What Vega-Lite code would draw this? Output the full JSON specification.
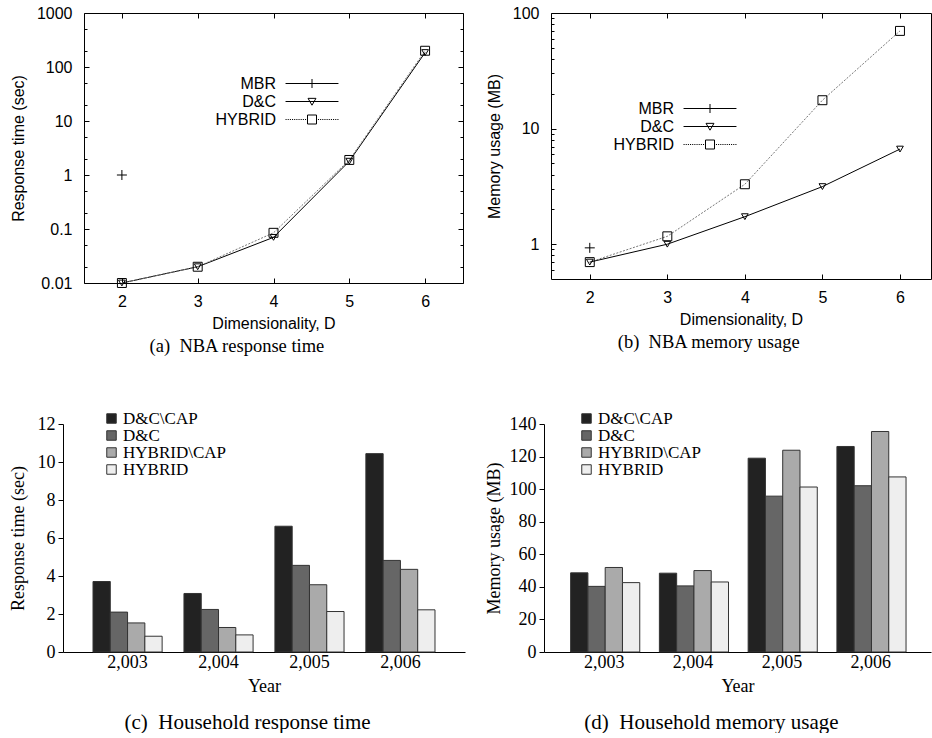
{
  "$schema": "https://vega.github.io/schema/vega-lite/v6.json",
  "padding": {"left": 9, "top": 4, "right": 0, "bottom": 0},
  "background": "white",
  "datasets": {
    "nba_time": [
      {"D": 2, "series": "MBR", "value": 1},
      {"D": 2, "series": "D&C", "value": 0.01},
      {"D": 3, "series": "D&C", "value": 0.02},
      {"D": 4, "series": "D&C", "value": 0.07},
      {"D": 5, "series": "D&C", "value": 1.8},
      {"D": 6, "series": "D&C", "value": 185},
      {"D": 2, "series": "HYBRID", "value": 0.01},
      {"D": 3, "series": "HYBRID", "value": 0.02},
      {"D": 4, "series": "HYBRID", "value": 0.085},
      {"D": 5, "series": "HYBRID", "value": 1.9},
      {"D": 6, "series": "HYBRID", "value": 200}
    ],
    "nba_mem": [
      {"D": 2, "series": "MBR", "value": 0.93},
      {"D": 2, "series": "D&C", "value": 0.7},
      {"D": 3, "series": "D&C", "value": 1.0},
      {"D": 4, "series": "D&C", "value": 1.73},
      {"D": 5, "series": "D&C", "value": 3.15},
      {"D": 6, "series": "D&C", "value": 6.65},
      {"D": 2, "series": "HYBRID", "value": 0.7},
      {"D": 3, "series": "HYBRID", "value": 1.17},
      {"D": 4, "series": "HYBRID", "value": 3.3},
      {"D": 5, "series": "HYBRID", "value": 17.6},
      {"D": 6, "series": "HYBRID", "value": 70}
    ],
    "hh_time": [
      {"year": 2003, "method": "D&C\\CAP", "value": 3.71},
      {"year": 2003, "method": "D&C", "value": 2.10},
      {"year": 2003, "method": "HYBRID\\CAP", "value": 1.53},
      {"year": 2003, "method": "HYBRID", "value": 0.83},
      {"year": 2004, "method": "D&C\\CAP", "value": 3.08},
      {"year": 2004, "method": "D&C", "value": 2.24},
      {"year": 2004, "method": "HYBRID\\CAP", "value": 1.29},
      {"year": 2004, "method": "HYBRID", "value": 0.90},
      {"year": 2005, "method": "D&C\\CAP", "value": 6.62},
      {"year": 2005, "method": "D&C", "value": 4.56},
      {"year": 2005, "method": "HYBRID\\CAP", "value": 3.54},
      {"year": 2005, "method": "HYBRID", "value": 2.13},
      {"year": 2006, "method": "D&C\\CAP", "value": 10.44},
      {"year": 2006, "method": "D&C", "value": 4.82},
      {"year": 2006, "method": "HYBRID\\CAP", "value": 4.35},
      {"year": 2006, "method": "HYBRID", "value": 2.22}
    ],
    "hh_mem": [
      {"year": 2003, "method": "D&C\\CAP", "value": 48.6},
      {"year": 2003, "method": "D&C", "value": 40.3},
      {"year": 2003, "method": "HYBRID\\CAP", "value": 51.9},
      {"year": 2003, "method": "HYBRID", "value": 42.6},
      {"year": 2004, "method": "D&C\\CAP", "value": 48.4},
      {"year": 2004, "method": "D&C", "value": 40.6},
      {"year": 2004, "method": "HYBRID\\CAP", "value": 50.0},
      {"year": 2004, "method": "HYBRID", "value": 43.0},
      {"year": 2005, "method": "D&C\\CAP", "value": 119},
      {"year": 2005, "method": "D&C", "value": 95.7},
      {"year": 2005, "method": "HYBRID\\CAP", "value": 123.9},
      {"year": 2005, "method": "HYBRID", "value": 101.3},
      {"year": 2006, "method": "D&C\\CAP", "value": 126.2},
      {"year": 2006, "method": "D&C", "value": 102.1},
      {"year": 2006, "method": "HYBRID\\CAP", "value": 135.4},
      {"year": 2006, "method": "HYBRID", "value": 107.5}
    ]
  },
  "config": {
    "font": "Liberation Sans",
    "view": {"stroke": null},
    "axis": {"grid": false, "domainColor": "black", "tickColor": "black", "labelColor": "black", "titleColor": "black", "titleFontWeight": "normal"},
    "legend": {"labelColor": "black"},
    "title": {"font": "Liberation Serif", "fontSize": 18.5, "fontWeight": "normal", "color": "black", "frame": "bounds"}
  },
  "resolve": {"scale": {"fill": "independent", "shape": "independent"}, "legend": {"fill": "independent", "shape": "independent"}},
  "columns": 2,
  "spacing": {"row": 54, "column": -1},
  "concat": [
    {
      "width": 379,
      "height": 270,
      "view": {"stroke": "black", "strokeWidth": 1},
      "title": {"text": "(a)\u00a0 NBA response time", "orient": "bottom", "offset": 6},
      "data": {"name": "nba_time"},
      "resolve": {"axis": {"x": "independent", "y": "independent"}},
      "layer": [
        {
          "transform": [{"filter": "datum.series == 'D&C'"}],
          "mark": {"type": "line", "color": "black", "strokeWidth": 1},
          "encoding": {
            "x": {"field": "D", "type": "quantitative", "scale": {"domain": [1.5, 6.5], "nice": false, "zero": false},
              "axis": {"orient": "bottom", "values": [2, 3, 4, 5, 6], "tickSize": -5, "domain": false, "labelPadding": 15, "labelFont": "Liberation Sans", "labelFontSize": 16, "title": "Dimensionality, D", "titleFont": "Liberation Sans", "titleFontSize": 16, "titlePadding": 6}},
            "y": {"field": "value", "type": "quantitative", "scale": {"type": "log", "domain": [0.01, 1000], "nice": false},
              "axis": {"orient": "left", "values": [0.01, 0.1, 1, 10, 100, 1000], "format": "~g", "tickSize": -5, "domain": false, "labelPadding": 17, "labelFont": "Liberation Sans", "labelFontSize": 16, "title": "Response time (sec)", "titleFont": "Liberation Sans", "titleFontSize": 16, "titlePadding": 10}}
          }
        },
        {
          "transform": [{"filter": "datum.series == 'HYBRID'"}],
          "mark": {"type": "line", "color": "#777777", "strokeWidth": 1, "strokeDash": [2, 1.5]},
          "encoding": {
            "x": {"field": "D", "type": "quantitative", "scale": {"domain": [1.5, 6.5], "nice": false, "zero": false},
              "axis": {"orient": "top", "values": [2, 3, 4, 5, 6], "tickSize": -5, "domain": false, "labels": false, "title": null}},
            "y": {"field": "value", "type": "quantitative", "scale": {"type": "log", "domain": [0.01, 1000], "nice": false},
              "axis": {"orient": "right", "values": [0.01, 0.1, 1, 10, 100, 1000], "tickSize": -5, "domain": false, "labels": false, "title": null}}
          }
        },
        {
          "transform": [{"filter": "datum.series == 'HYBRID'"}],
          "mark": {"type": "point", "shape": "square", "size": 80, "filled": false, "stroke": "black", "strokeWidth": 1, "opacity": 1},
          "encoding": {
            "x": {"field": "D", "type": "quantitative", "scale": {"domain": [1.5, 6.5], "nice": false, "zero": false}, "axis": null},
            "y": {"field": "value", "type": "quantitative", "scale": {"type": "log", "domain": [0.01, 1000], "nice": false},
              "axis": {"orient": "left", "values": [0.02, 0.05, 0.2, 0.5, 2, 5, 20, 50, 200, 500], "tickSize": -3, "domain": false, "labels": false, "title": null}}
          }
        },
        {
          "transform": [{"filter": "datum.series == 'D&C'"}],
          "mark": {"type": "point", "shape": "triangle-down", "size": 45, "filled": false, "stroke": "black", "strokeWidth": 1, "opacity": 1},
          "encoding": {
            "x": {"field": "D", "type": "quantitative", "scale": {"domain": [1.5, 6.5], "nice": false, "zero": false}, "axis": null},
            "y": {"field": "value", "type": "quantitative", "scale": {"type": "log", "domain": [0.01, 1000], "nice": false},
              "axis": {"orient": "right", "values": [0.02, 0.05, 0.2, 0.5, 2, 5, 20, 50, 200, 500], "tickSize": -3, "domain": false, "labels": false, "title": null}}
          }
        },
        {
          "transform": [{"filter": "datum.series == 'MBR'"}],
          "mark": {"type": "point", "shape": "M-1,0H1M0,-1V1", "size": 100, "filled": false, "stroke": "black", "strokeWidth": 1, "opacity": 1},
          "encoding": {
            "x": {"field": "D", "type": "quantitative", "scale": {"domain": [1.5, 6.5], "nice": false, "zero": false}, "axis": null},
            "y": {"field": "value", "type": "quantitative", "scale": {"type": "log", "domain": [0.01, 1000], "nice": false}, "axis": null}
          }
        },
        {
          "transform": [{"filter": "datum.D < 0"}],
          "mark": {"type": "point", "filled": false, "stroke": "black", "strokeWidth": 1, "opacity": 1},
          "encoding": {
            "x": {"field": "D", "type": "quantitative", "scale": {"domain": [1.5, 6.5], "nice": false, "zero": false}, "axis": null},
            "y": {"field": "value", "type": "quantitative", "scale": {"type": "log", "domain": [0.01, 1000], "nice": false}, "axis": null},
            "shape": {"field": "series", "type": "nominal",
              "scale": {"domain": ["MBR", "D&C", "HYBRID"], "range": [
                "M-2.94,0H2.94M0,-0.5V0.5",
                "M-2.94,0H2.94M-0.44,-0.35L0.44,-0.35L0,0.41Z",
                "M-2.94,0h0.12M-2.7,0h0.12M-2.46,0h0.12M-2.22,0h0.12M-1.98,0h0.12M-1.74,0h0.12M-1.5,0h0.12M-1.26,0h0.12M-1.02,0h0.12M-0.78,0h0.12M0.66,0h0.12M0.9,0h0.12M1.14,0h0.12M1.38,0h0.12M1.62,0h0.12M1.86,0h0.12M2.1,0h0.12M2.34,0h0.12M2.58,0h0.12M2.82,0h0.12M-0.5,-0.5h1v1h-1Z"
              ]},
              "legend": {"orient": "none", "legendX": 218.5, "legendY": 61, "title": null, "padding": 0, "symbolSize": 324, "symbolStrokeWidth": 1, "symbolStrokeColor": "black", "labelAlign": "right", "labelOffset": -45.5, "labelFont": "Liberation Sans", "labelFontSize": 16, "rowPadding": 0}}
          }
        }
      ]
    },
    {
      "width": 380,
      "height": 266,
      "view": {"stroke": "black", "strokeWidth": 1},
      "title": {"text": "(b)\u00a0 NBA memory usage", "orient": "bottom", "offset": 6},
      "data": {"name": "nba_mem"},
      "resolve": {"axis": {"x": "independent", "y": "independent"}},
      "layer": [
        {
          "transform": [{"filter": "datum.series == 'D&C'"}],
          "mark": {"type": "line", "color": "black", "strokeWidth": 1},
          "encoding": {
            "x": {"field": "D", "type": "quantitative", "scale": {"domain": [1.5, 6.4], "nice": false, "zero": false},
              "axis": {"orient": "bottom", "values": [2, 3, 4, 5, 6], "tickSize": -5, "domain": false, "labelPadding": 15, "labelFont": "Liberation Sans", "labelFontSize": 16, "title": "Dimensionality, D", "titleFont": "Liberation Sans", "titleFontSize": 16, "titlePadding": 6}},
            "y": {"field": "value", "type": "quantitative", "scale": {"type": "log", "domain": [0.5, 100], "nice": false},
              "axis": {"orient": "left", "values": [1, 10, 100], "format": "~g", "tickSize": -5, "domain": false, "labelPadding": 17, "labelFont": "Liberation Sans", "labelFontSize": 16, "title": "Memory usage (MB)", "titleFont": "Liberation Sans", "titleFontSize": 16, "titlePadding": 10}}
          }
        },
        {
          "transform": [{"filter": "datum.series == 'HYBRID'"}],
          "mark": {"type": "line", "color": "#777777", "strokeWidth": 1, "strokeDash": [2, 1.5]},
          "encoding": {
            "x": {"field": "D", "type": "quantitative", "scale": {"domain": [1.5, 6.4], "nice": false, "zero": false},
              "axis": {"orient": "top", "values": [2, 3, 4, 5, 6], "tickSize": -5, "domain": false, "labels": false, "title": null}},
            "y": {"field": "value", "type": "quantitative", "scale": {"type": "log", "domain": [0.5, 100], "nice": false}, "axis": null}
          }
        },
        {
          "transform": [{"filter": "datum.series == 'HYBRID'"}],
          "mark": {"type": "point", "shape": "square", "size": 80, "filled": false, "stroke": "black", "strokeWidth": 1, "opacity": 1},
          "encoding": {
            "x": {"field": "D", "type": "quantitative", "scale": {"domain": [1.5, 6.4], "nice": false, "zero": false}, "axis": null},
            "y": {"field": "value", "type": "quantitative", "scale": {"type": "log", "domain": [0.5, 100], "nice": false},
              "axis": {"orient": "left", "values": [0.6, 0.7, 0.8, 0.9, 2, 3, 4, 5, 6, 7, 8, 9, 20, 30, 40, 50, 60, 70, 80, 90], "tickSize": -3, "domain": false, "labels": false, "title": null}}
          }
        },
        {
          "transform": [{"filter": "datum.series == 'D&C'"}],
          "mark": {"type": "point", "shape": "triangle-down", "size": 45, "filled": false, "stroke": "black", "strokeWidth": 1, "opacity": 1},
          "encoding": {
            "x": {"field": "D", "type": "quantitative", "scale": {"domain": [1.5, 6.4], "nice": false, "zero": false}, "axis": null},
            "y": {"field": "value", "type": "quantitative", "scale": {"type": "log", "domain": [0.5, 100], "nice": false}, "axis": null}
          }
        },
        {
          "transform": [{"filter": "datum.series == 'MBR'"}],
          "mark": {"type": "point", "shape": "M-1,0H1M0,-1V1", "size": 100, "filled": false, "stroke": "black", "strokeWidth": 1, "opacity": 1},
          "encoding": {
            "x": {"field": "D", "type": "quantitative", "scale": {"domain": [1.5, 6.4], "nice": false, "zero": false}, "axis": null},
            "y": {"field": "value", "type": "quantitative", "scale": {"type": "log", "domain": [0.5, 100], "nice": false}, "axis": null}
          }
        },
        {
          "transform": [{"filter": "datum.D < 0"}],
          "mark": {"type": "point", "filled": false, "stroke": "black", "strokeWidth": 1, "opacity": 1},
          "encoding": {
            "x": {"field": "D", "type": "quantitative", "scale": {"domain": [1.5, 6.4], "nice": false, "zero": false}, "axis": null},
            "y": {"field": "value", "type": "quantitative", "scale": {"type": "log", "domain": [0.5, 100], "nice": false}, "axis": null},
            "shape": {"field": "series", "type": "nominal",
              "scale": {"domain": ["MBR", "D&C", "HYBRID"], "range": [
                "M-2.94,0H2.94M0,-0.5V0.5",
                "M-2.94,0H2.94M-0.44,-0.35L0.44,-0.35L0,0.41Z",
                "M-2.94,0h0.12M-2.7,0h0.12M-2.46,0h0.12M-2.22,0h0.12M-1.98,0h0.12M-1.74,0h0.12M-1.5,0h0.12M-1.26,0h0.12M-1.02,0h0.12M-0.78,0h0.12M0.66,0h0.12M0.9,0h0.12M1.14,0h0.12M1.38,0h0.12M1.62,0h0.12M1.86,0h0.12M2.1,0h0.12M2.34,0h0.12M2.58,0h0.12M2.82,0h0.12M-0.5,-0.5h1v1h-1Z"
              ]},
              "legend": {"orient": "none", "legendX": 149.5, "legendY": 86, "title": null, "padding": 0, "symbolSize": 324, "symbolStrokeWidth": 1, "symbolStrokeColor": "black", "labelAlign": "right", "labelOffset": -45.5, "labelFont": "Liberation Sans", "labelFontSize": 16, "rowPadding": 0}}
          }
        }
      ]
    },
    {
      "width": 381,
      "height": 228,
      "title": {"text": "(c)\u00a0 Household response time", "orient": "bottom", "offset": 17, "fontSize": 21},
      "data": {"name": "hh_time"},
      "mark": {"type": "bar", "stroke": "#333333", "strokeWidth": 1},
      "encoding": {
        "x": {"field": "year", "type": "ordinal", "scale": {"range": [-21, 381], "paddingInner": 0.24, "paddingOuter": 0.33},
          "axis": {"format": ",", "formatType": "number", "labelAngle": 0, "ticks": false, "labelPadding": 1, "labelFont": "Liberation Serif", "labelFontSize": 18, "title": "Year", "titleFont": "Liberation Serif", "titleFontSize": 18, "titlePadding": 6}},
        "xOffset": {"field": "method", "type": "nominal", "sort": ["D&C\\CAP", "D&C", "HYBRID\\CAP", "HYBRID"], "scale": {"paddingInner": 0, "paddingOuter": 0}},
        "y": {"field": "value", "type": "quantitative", "scale": {"domain": [0, 12], "nice": false},
          "axis": {"offset": 21, "values": [0, 2, 4, 6, 8, 10, 12], "tickSize": 5, "labelPadding": 3, "labelFont": "Liberation Serif", "labelFontSize": 18, "title": "Response time (sec)", "titleFont": "Liberation Serif", "titleFontSize": 18, "titlePadding": 10}},
        "fill": {"field": "method", "type": "nominal", "sort": ["D&C\\CAP", "D&C", "HYBRID\\CAP", "HYBRID"],
          "scale": {"domain": ["D&C\\CAP", "D&C", "HYBRID\\CAP", "HYBRID"], "range": ["#222222", "#666666", "#aaaaaa", "#eeeeee"]},
          "legend": {"orient": "none", "legendX": 19, "legendY": -14, "title": null, "padding": 0, "symbolType": "square", "symbolSize": 90, "symbolStrokeColor": "#333333", "symbolStrokeWidth": 1, "labelFont": "Liberation Serif", "labelFontSize": 17, "labelOffset": 3, "rowPadding": -3}}
      }
    },
    {
      "width": 380,
      "height": 228,
      "title": {"text": "(d)\u00a0 Household memory usage", "orient": "bottom", "offset": 17, "fontSize": 21},
      "data": {"name": "hh_mem"},
      "mark": {"type": "bar", "stroke": "#333333", "strokeWidth": 1},
      "encoding": {
        "x": {"field": "year", "type": "ordinal", "scale": {"range": [-7, 380], "paddingInner": 0.24, "paddingOuter": 0.3},
          "axis": {"format": ",", "formatType": "number", "labelAngle": 0, "ticks": false, "labelPadding": 1, "labelFont": "Liberation Serif", "labelFontSize": 18, "title": "Year", "titleFont": "Liberation Serif", "titleFontSize": 18, "titlePadding": 6}},
        "xOffset": {"field": "method", "type": "nominal", "sort": ["D&C\\CAP", "D&C", "HYBRID\\CAP", "HYBRID"], "scale": {"paddingInner": 0, "paddingOuter": 0}},
        "y": {"field": "value", "type": "quantitative", "scale": {"domain": [0, 140], "nice": false},
          "axis": {"offset": 7, "values": [0, 20, 40, 60, 80, 100, 120, 140], "tickSize": 5, "labelPadding": 3, "labelFont": "Liberation Serif", "labelFontSize": 18, "title": "Memory usage (MB)", "titleFont": "Liberation Serif", "titleFontSize": 18, "titlePadding": 6}},
        "fill": {"field": "method", "type": "nominal", "sort": ["D&C\\CAP", "D&C", "HYBRID\\CAP", "HYBRID"],
          "scale": {"domain": ["D&C\\CAP", "D&C", "HYBRID\\CAP", "HYBRID"], "range": ["#222222", "#666666", "#aaaaaa", "#eeeeee"]},
          "legend": {"orient": "none", "legendX": 27, "legendY": -14, "title": null, "padding": 0, "symbolType": "square", "symbolSize": 90, "symbolStrokeColor": "#333333", "symbolStrokeWidth": 1, "labelFont": "Liberation Serif", "labelFontSize": 17, "labelOffset": 3, "rowPadding": -3}}
      }
    }
  ]
}
